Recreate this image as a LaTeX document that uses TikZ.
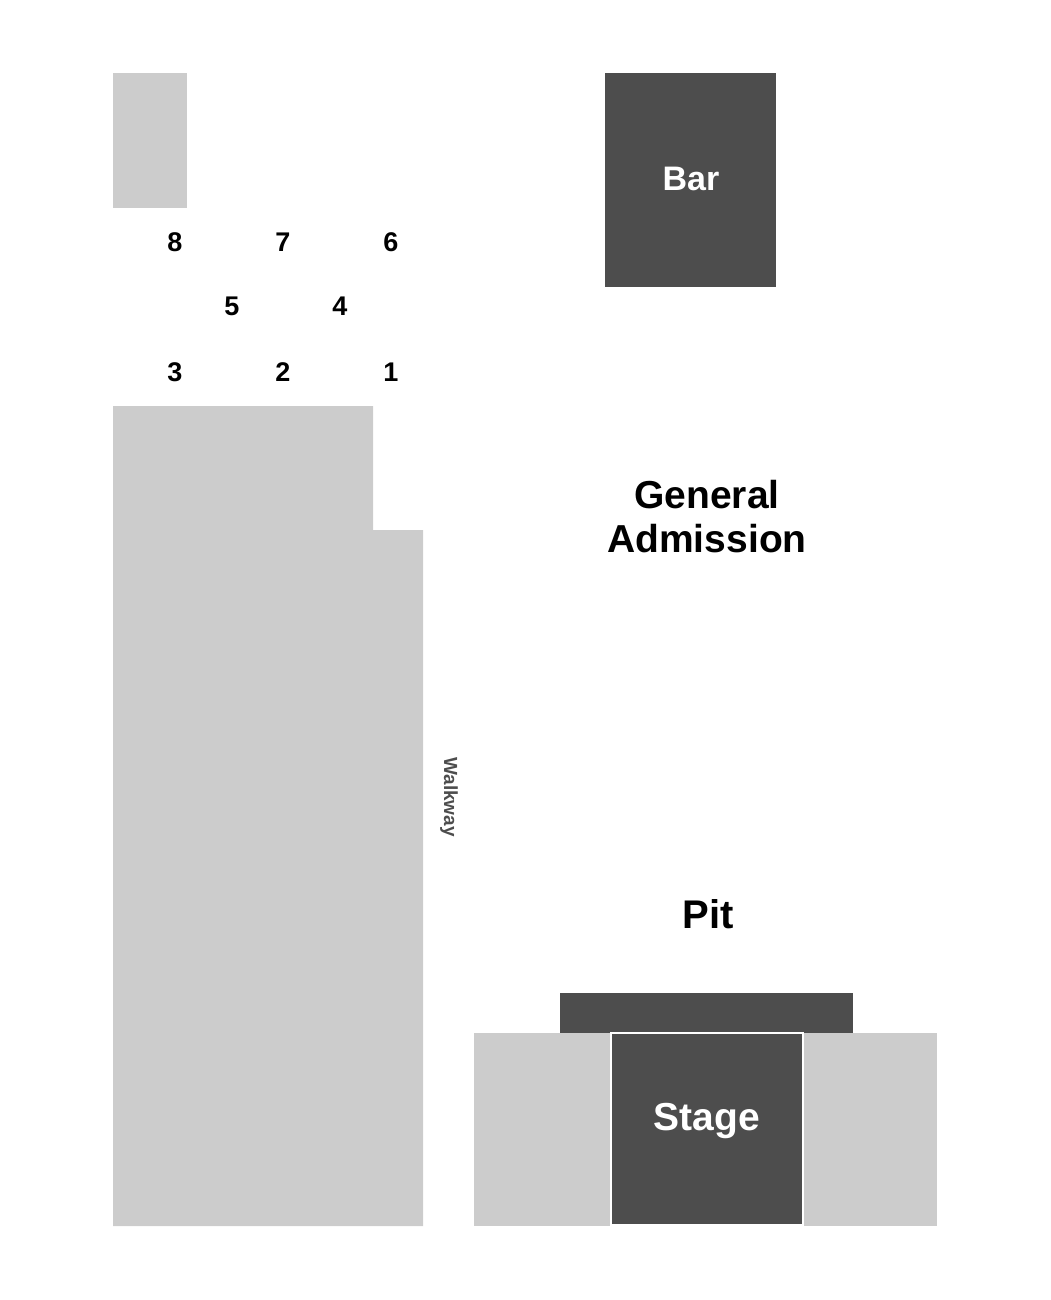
\documentclass[tikz,border=0pt]{standalone}
\usepackage{fontspec}
\setmainfont{Liberation Sans}
\begin{document}
\begin{tikzpicture}[x=1pt,y=-1pt]
    \definecolor{seatgray}{HTML}{CCCCCC}
    \definecolor{darkgray}{HTML}{4D4D4D}
    \tikzstyle{seat} = [fill=seatgray]
    \tikzstyle{dark} = [fill=darkgray]
    \tikzstyle{num} = [font=\fontsize{27}{27}\selectfont\bfseries]
    \useasboundingbox (0,0) rectangle (1050,1300);
    % seating blocks
    \fill [seat] (113,73) rectangle (187,208);
    \fill [seat] (113,406) -- (373,406) -- (373,530) -- (423,530) -- (423,1226) -- (113,1226) -- cycle;
    \fill [seat] (474,1033) rectangle (611,1226);
    \fill [seat] (803,1033) rectangle (937,1226);
    % bar and stage
    \fill [dark] (605,73) rectangle (776,287);
    \fill [dark] (560,993) rectangle (853,1033);
    \filldraw [dark,draw=white,line width=1.5] (611,1033) rectangle (803,1225);
    \node [text=white,font=\fontsize{34}{34}\selectfont\bfseries] (bar) at (691,179) {Bar};
    \node [text=white,font=\fontsize{39}{39}\selectfont\bfseries] (stage) at (707,1121) {Stage};
    \node [font=\fontsize{40}{40}\selectfont\bfseries] (pit) at (708,914) {Pit};
    \node [align=center,font=\fontsize{39}{44}\selectfont\bfseries] (ga) at (707,517) {General\\Admission};
    \node [rotate=-90,text=darkgray,font=\fontsize{19}{19}\selectfont\bfseries] (walk) at (449,797) {Walkway};
    % row numbers
    \node [num] (n8) at (175,242) {8};
    \node [num] (n7) at (283,242) {7};
    \node [num] (n6) at (391,242) {6};
    \node [num] (n5) at (232,306) {5};
    \node [num] (n4) at (340,306) {4};
    \node [num] (n3) at (175,372) {3};
    \node [num] (n2) at (283,372) {2};
    \node [num] (n1) at (391,372) {1};
\end{tikzpicture}
\end{document}
